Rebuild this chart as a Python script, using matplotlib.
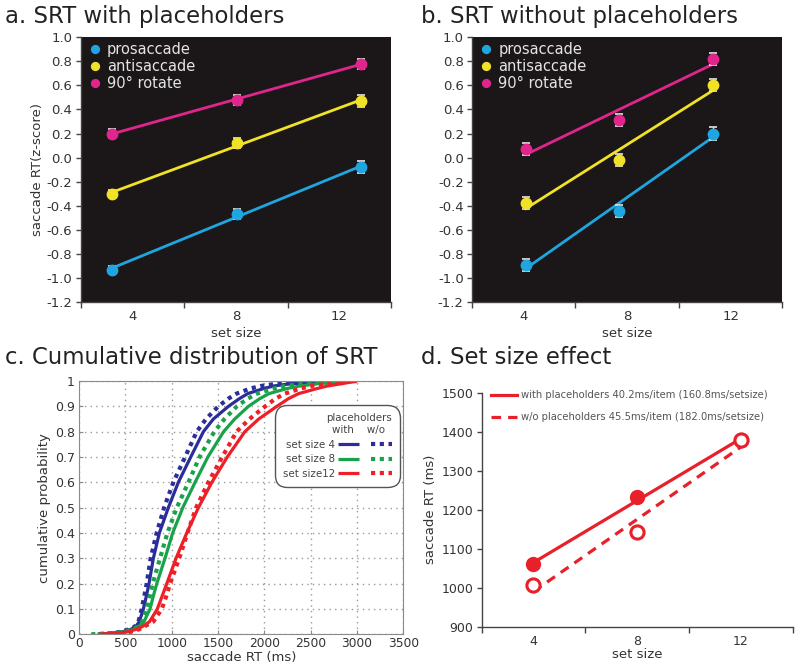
import numpy as np
import matplotlib
matplotlib.use('Agg')
import matplotlib.pyplot as plt
from matplotlib.legend_handler import HandlerTuple
from matplotlib.ticker import FixedLocator

plt.rcParams['font.family'] = ['DejaVu Sans']
plt.rcParams['axes.unicode_minus'] = False

# ---------------- data ----------------
cond_names = ['prosaccade', 'antisaccade', '90° rotate']
cond_colors = ['#1fa6e0', '#f2e227', '#e0258c']

# panel a: with placeholders (x positions as drawn)
a_x = [3.2, 8.05, 12.85]
a_pro = [-0.93, -0.47, -0.08]
a_anti = [-0.30, 0.12, 0.47]
a_rot = [0.20, 0.48, 0.78]
a_pro_err = [0.03, 0.04, 0.05]
a_anti_err = [0.03, 0.04, 0.05]
a_rot_err = [0.04, 0.04, 0.04]

# panel b: without placeholders
b_x = [4.08, 7.7, 11.3]
b_pro = [-0.89, -0.44, 0.20]
b_anti = [-0.38, -0.02, 0.60]
b_rot = [0.07, 0.31, 0.82]
b_pro_err = [0.05, 0.05, 0.05]
b_anti_err = [0.05, 0.05, 0.05]
b_rot_err = [0.05, 0.05, 0.05]

# panel c: cumulative distributions (RT in ms at each probability level)
cdf_p = [0.0, 0.005, 0.01, 0.02, 0.03, 0.05, 0.1, 0.15, 0.2, 0.3, 0.4, 0.5, 0.6,
         0.7, 0.8, 0.85, 0.9, 0.93, 0.95, 0.97, 0.98, 0.99, 1.0]
rt_ss4_with = [200, 380, 470, 560, 610, 650, 693, 725, 754, 801, 866, 963, 1071,
               1205, 1342, 1450, 1613, 1730, 1820, 1991, 2100, 2300, 3000]
rt_ss4_wo = [210, 370, 450, 545, 600, 640, 675, 703, 729, 772, 837, 917, 1017,
             1144, 1270, 1370, 1504, 1610, 1700, 1847, 1960, 2150, 3000]
rt_ss8_with = [200, 400, 500, 590, 640, 700, 765, 800, 838, 927, 1010, 1119, 1252,
               1390, 1560, 1680, 1829, 1950, 2050, 2244, 2380, 2600, 3000]
rt_ss8_wo = [130, 380, 480, 580, 630, 680, 729, 762, 794, 873, 953, 1054, 1180,
             1300, 1460, 1570, 1703, 1820, 1920, 2100, 2220, 2450, 3000]
rt_ss12_with = [220, 430, 520, 620, 680, 760, 844, 895, 946, 1046, 1162, 1288, 1433,
                1600, 1790, 1940, 2136, 2260, 2370, 2569, 2680, 2850, 3000]
rt_ss12_wo = [250, 470, 560, 650, 700, 800, 892, 940, 982, 1080, 1170, 1263, 1395,
              1545, 1700, 1840, 2010, 2120, 2220, 2389, 2500, 2700, 3000]
cdf_labels = ['set size 4', 'set size 8', 'set size12']
cdf_colors = ['#2b2e98', '#18a34a', '#ee1f26']

# panel d: set size effect
d_x = [4, 8, 12]
d_with = [1060, 1233, 1378]
d_without = [1007, 1142, 1378]
d_labels = ['with placeholders 40.2ms/item (160.8ms/setsize)',
            'w/o placeholders 45.5ms/item (182.0ms/setsize)']

# ---------------- figure ----------------
fig = plt.figure(figsize=(8, 6.72), dpi=100)
fig.patch.set_facecolor('white')

TXT = '#333333'
TITLE = '#222222'


def px2fig(x, y):
    return x / 800.0, 1 - y / 672.0


def set_size_axis(ax):
    ax.set_xlim(2, 14)
    ax.set_xticks([4, 8, 12])
    ax.set_xticklabels(['4', '8', '12'])
    ax.xaxis.set_minor_locator(FixedLocator([2, 6, 10, 14]))
    ax.tick_params(axis='x', which='major', length=0, pad=6)
    ax.tick_params(axis='x', which='minor', length=4, width=1, color='#444', direction='out')
    ax.tick_params(axis='y', length=3.5, width=1, color='#444', direction='out', pad=2.5)
    ax.tick_params(labelsize=9.5, labelcolor=TXT)
    for s in ['top', 'right']:
        ax.spines[s].set_visible(False)
    for s in ['left', 'bottom']:
        ax.spines[s].set_color('#444')
        ax.spines[s].set_linewidth(1)


def zpanel(ax, x, series, errs, ylabel):
    ax.set_facecolor('#1b1718')
    xs = np.array(x, dtype=float)
    for y, e, c, name in zip(series, errs, cond_colors, cond_names):
        ys = np.array(y, dtype=float)
        k, b0 = np.polyfit(xs, ys, 1)
        ax.plot([xs[0], xs[-1]], [k * xs[0] + b0, k * xs[-1] + b0], color=c, lw=2, zorder=2)
        ax.errorbar(xs, ys, yerr=e, fmt='none', ecolor='#e6e6e6', elinewidth=1,
                    capsize=3, capthick=1.2, zorder=3)
        ax.plot(xs, ys, 'o', color=c, ms=7.5, mec=c, zorder=4, label=name)
    yt = np.round(np.arange(-1.2, 1.01, 0.2), 1) + 0.0
    ax.set_ylim(-1.2, 1.0)
    ax.set_yticks(yt)
    ax.set_yticklabels(['%.1f' % (v + 0.0) for v in yt])
    set_size_axis(ax)
    ax.set_xlabel('set size', fontsize=9.5, color=TXT, labelpad=3)
    if ylabel:
        ax.set_ylabel(ylabel, fontsize=9.5, color=TXT, labelpad=2)
    ax.legend(loc='upper left', bbox_to_anchor=(-0.005, 1.02), frameon=False,
              fontsize=10.5, labelcolor='#e4e4e4', handlelength=0.8,
              handletextpad=0.4, labelspacing=0.12, markerscale=0.75,
              borderaxespad=0.3)


# panel a
axa = fig.add_axes([0.101, 0.5506, 0.388, 0.394])
zpanel(axa, a_x, [a_pro, a_anti, a_rot], [a_pro_err, a_anti_err, a_rot_err],
       'saccade RT(z-score)')
# panel b
axb = fig.add_axes([0.590, 0.5506, 0.388, 0.394])
zpanel(axb, b_x, [b_pro, b_anti, b_rot], [b_pro_err, b_anti_err, b_rot_err], None)

# panel c
axc = fig.add_axes([0.099, 0.0561, 0.405, 0.377])
solid_handles = []
dot_handles = []
for rw, rwo, c in zip([rt_ss4_with, rt_ss8_with, rt_ss12_with],
                      [rt_ss4_wo, rt_ss8_wo, rt_ss12_wo], cdf_colors):
    h1, = axc.plot(rw, cdf_p, color=c, lw=2.3, solid_capstyle='butt', solid_joinstyle='round')
    h2, = axc.plot(rwo, cdf_p, color=c, lw=3.0, linestyle=(0, (1, 1.1)))
    solid_handles.append(h1)
    dot_handles.append(h2)
axc.set_xlim(0, 3500)
axc.set_ylim(0, 1)
axc.set_xticks(np.arange(0, 3501, 500))
axc.set_yticks(np.round(np.arange(0, 1.01, 0.1), 1))
axc.set_yticklabels(['0'] + ['%.1f' % v for v in np.arange(0.1, 0.95, 0.1)] + ['1'])
axc.grid(True, linestyle=(0, (1, 3)), color='#9a9a9a', lw=1)
for s in axc.spines.values():
    s.set_color('#8a8a8a')
axc.tick_params(direction='in', length=3, color='#8a8a8a', labelsize=9, labelcolor=TXT, pad=3)
axc.tick_params(axis='x', pad=2, labelsize=8.8)
axc.set_xlabel('saccade RT (ms)', fontsize=9.5, color=TXT, labelpad=0.5)
axc.set_ylabel('cumulative probability', fontsize=9.5, color=TXT, labelpad=3)
legc = axc.legend([(s_, d_) for s_, d_ in zip(solid_handles, dot_handles)], cdf_labels,
                  handler_map={tuple: HandlerTuple(ndivide=None, pad=1.2)},
                  loc='upper right', bbox_to_anchor=(0.98, 0.892), borderaxespad=0,
                  fontsize=7.4, handlelength=5.2, handletextpad=0.3, labelspacing=0.45,
                  markerfirst=False, title='placeholders\nwith    w/o  ',
                  title_fontsize=7.4, alignment='right', fancybox=True,
                  framealpha=1, edgecolor='#555555', borderpad=0.5)
legc.get_title().set_multialignment('right')
legc.get_title().set_color('#444444')
for t in legc.get_texts():
    t.set_color('#444444')
legc.get_frame().set_boxstyle('round', pad=0.3, rounding_size=1.2)
legc.get_frame().set_linewidth(1)

# panel d
axd = fig.add_axes([0.602, 0.0674, 0.389, 0.348])
dxs = np.array(d_x, dtype=float)
red = '#e8202a'
for yv, lab, ls, filled in [(d_with, d_labels[0], '-', True),
                            (d_without, d_labels[1], (0, (3, 2.2)), False)]:
    ys = np.array(yv, dtype=float)
    k, b0 = np.polyfit(dxs, ys, 1)
    axd.plot([dxs[0], dxs[-1]], [k * dxs[0] + b0, k * dxs[-1] + b0], color=red,
             lw=2.3, linestyle=ls, label=lab, zorder=2)
    if filled:
        axd.plot(dxs, ys, 'o', color=red, ms=10, zorder=3)
    else:
        axd.plot(dxs, ys, 'o', mfc='white', mec=red, mew=2.2, ms=9.5, zorder=3)
axd.set_ylim(900, 1500)
axd.set_yticks(np.arange(900, 1501, 100))
set_size_axis(axd)
axd.tick_params(labelsize=9)
axd.set_xlabel('set size', fontsize=9.5, color=TXT, labelpad=0)
axd.set_ylabel('saccade RT (ms)', fontsize=9.5, color=TXT, labelpad=3)
axd.legend(loc='upper left', bbox_to_anchor=(0.0, 1.05), frameon=False,
           fontsize=7.2, labelcolor='#555555', handlelength=2.6,
           handletextpad=0.4, labelspacing=1.2)

# titles
for txt, (x, y) in [('a. SRT with placeholders', (5, 17)),
                    ('b. SRT without placeholders', (421, 17)),
                    ('c. Cumulative distribution of SRT', (5, 358)),
                    ('d. Set size effect', (421, 358))]:
    fx, fy = px2fig(x, y)
    fig.text(fx, fy, txt, fontsize=16.4, color=TITLE, ha='left', va='center')

fig.savefig('out.png', dpi=100)
